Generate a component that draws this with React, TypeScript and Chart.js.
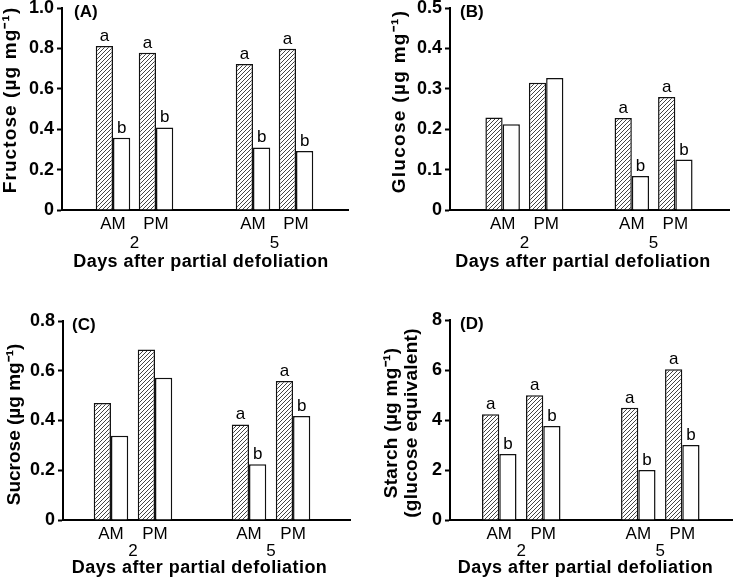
import React, { useEffect, useRef } from 'react';
import { Chart, registerables, LinearScale } from 'chart.js';

// Linear scale whose title can be nudged and letter-spaced
class TitledLinearScale extends (LinearScale as any) {
  static id = 'titledLinear';
  static defaults = (LinearScale as any).defaults;
  drawTitle() {
    const ctx = (this as any).ctx;
    const shift = (this as any).$titleShift || [0, 0];
    ctx.save();
    ctx.translate(shift[0], shift[1]);
    ctx.letterSpacing = `${(this as any).$titleSpacing || 0}px`;
    super.drawTitle();
    ctx.restore();
  }
}

Chart.register(...registerables, TitledLinearScale as any);

// ---------- data ----------
const sessions = ['AM', 'PM'];
const days = ['2', '5'];
const xAxisTitle = 'Days after partial defoliation';

const fructoseHatched = [0.812, 0.779, 0.723, 0.798];
const fructoseOpen = [0.358, 0.409, 0.31, 0.292];
const fructoseHatchedLetters = ['a', 'a', 'a', 'a'];
const fructoseOpenLetters = ['b', 'b', 'b', 'b'];
const fructoseTickValues = [0, 0.2, 0.4, 0.6, 0.8, 1.0];
const fructoseTickLabels = ['0', '0.2', '0.4', '0.6', '0.8', '1.0'];

const glucoseHatched = [0.229, 0.315, 0.228, 0.28];
const glucoseOpen = [0.212, 0.327, 0.084, 0.125];
const glucoseHatchedLetters = ['', '', 'a', 'a'];
const glucoseOpenLetters = ['', '', 'b', 'b'];
const glucoseTickValues = [0, 0.1, 0.2, 0.3, 0.4, 0.5];
const glucoseTickLabels = ['0', '0.1', '0.2', '0.3', '0.4', '0.5'];

const sucroseHatched = [0.47, 0.685, 0.384, 0.559];
const sucroseOpen = [0.339, 0.572, 0.224, 0.418];
const sucroseHatchedLetters = ['', '', 'a', 'a'];
const sucroseOpenLetters = ['', '', 'b', 'b'];
const sucroseTickValues = [0, 0.2, 0.4, 0.6, 0.8];
const sucroseTickLabels = ['0', '0.2', '0.4', '0.6', '0.8'];

const starchHatched = [4.23, 4.99, 4.49, 6.03];
const starchOpen = [2.64, 3.76, 2.0, 3.0];
const starchHatchedLetters = ['a', 'a', 'a', 'a'];
const starchOpenLetters = ['b', 'b', 'b', 'b'];
const starchTickValues = [0, 2, 4, 6, 8];
const starchTickLabels = ['0', '2', '4', '6', '8'];

// ---------- styling / layout ----------
const FONT = '"Liberation Sans", Arial, Helvetica, sans-serif';

type Layout = {
  left: number; top: number; w: number; h: number;
  yWidth: number; padTop: number; padRight: number;
  xH: number; xDayH: number; xDayPad: number;
  lead: number; dayStep: number; xMax: number;
  yTitlePad: number; yTitleShift: number; yTitleSpacing: number;
  xTitlePad: number; xTitleShift: number; labelDx: number;
};

type PanelCfg = {
  label: string;
  yTitle: string | string[];
  hatched: number[]; open: number[];
  hatchedLetters: string[]; openLetters: string[];
  tickValues: number[]; tickLabels: string[];
  layout: Layout;
};

const panels: PanelCfg[] = [
  {
    label: '(A)', yTitle: 'Fructose (µg mg⁻¹)',
    hatched: fructoseHatched, open: fructoseOpen,
    hatchedLetters: fructoseHatchedLetters, openLetters: fructoseOpenLetters,
    tickValues: fructoseTickValues, tickLabels: fructoseTickLabels,
    layout: { left: 0, top: 0, w: 366, h: 290, yWidth: 62, padTop: 8, padRight: 18, xH: 19, xDayH: 61, xDayPad: 4,
      lead: 1.186, dayStep: 3.256, xMax: 6.651,
      yTitlePad: 1, yTitleShift: -9, yTitleSpacing: 1.1,
      xTitlePad: 18, xTitleShift: -4, labelDx: 12 },
  },
  {
    label: '(B)', yTitle: 'Glucose (µg mg⁻¹)',
    hatched: glucoseHatched, open: glucoseOpen,
    hatchedLetters: glucoseHatchedLetters, openLetters: glucoseOpenLetters,
    tickValues: glucoseTickValues, tickLabels: glucoseTickLabels,
    layout: { left: 366, top: 0, w: 367, h: 290, yWidth: 84, padTop: 8, padRight: 4, xH: 19, xDayH: 61, xDayPad: 4,
      lead: 1.21, dayStep: 2.97, xMax: 6.414,
      yTitlePad: 24, yTitleShift: -7.5, yTitleSpacing: 1.3,
      xTitlePad: 18, xTitleShift: -6.5, labelDx: 10 },
  },
  {
    label: '(C)', yTitle: 'Sucrose (µg mg⁻¹)',
    hatched: sucroseHatched, open: sucroseOpen,
    hatchedLetters: sucroseHatchedLetters, openLetters: sucroseOpenLetters,
    tickValues: sucroseTickValues, tickLabels: sucroseTickLabels,
    layout: { left: 0, top: 290, w: 366, h: 292, yWidth: 63, padTop: 31, padRight: 16, xH: 19, xDayH: 43, xDayPad: 2.5,
      lead: 1.09, dayStep: 3.136, xMax: 6.52,
      yTitlePad: 5, yTitleShift: 4, yTitleSpacing: 0,
      xTitlePad: 4, xTitleShift: -7, labelDx: 9 },
  },
  {
    label: '(D)', yTitle: ['Starch (µg mg⁻¹)', '(glucose equivalent)'],
    hatched: starchHatched, open: starchOpen,
    hatchedLetters: starchHatchedLetters, openLetters: starchOpenLetters,
    tickValues: starchTickValues, tickLabels: starchTickLabels,
    layout: { left: 366, top: 290, w: 367, h: 292, yWidth: 84, padTop: 30, padRight: 1, xH: 19, xDayH: 43, xDayPad: 2.5,
      lead: 1.12, dayStep: 3.16, xMax: 6.41,
      yTitlePad: 16, yTitleShift: 3, yTitleSpacing: 0.3,
      xTitlePad: 4, xTitleShift: -5.5, labelDx: 10 },
  },
];

function makeHatch(ctx: CanvasRenderingContext2D) {
  const s = 4;
  const c = document.createElement('canvas');
  c.width = s; c.height = s;
  const g = c.getContext('2d')!;
  g.fillStyle = '#ffffff';
  g.fillRect(0, 0, s, s);
  g.strokeStyle = '#444444';
  g.lineWidth = 1;
  g.beginPath(); g.moveTo(-1, s + 1); g.lineTo(s + 1, -1); g.stroke();
  g.beginPath(); g.moveTo(-1, 1); g.lineTo(1, -1); g.stroke();
  g.beginPath(); g.moveTo(s - 1, s + 1); g.lineTo(s + 1, s - 1); g.stroke();
  return ctx.createPattern(c, 'repeat')!;
}

const lettersPlugin = {
  id: 'letters',
  afterDatasetsDraw(chart: any) {
    const ctx = chart.ctx;
    ctx.save();
    ctx.font = `17px ${FONT}`;
    ctx.fillStyle = '#000';
    ctx.textAlign = 'center';
    ctx.textBaseline = 'alphabetic';
    chart.data.datasets.forEach((ds: any, i: number) => {
      const meta = chart.getDatasetMeta(i);
      meta.data.forEach((el: any, j: number) => {
        const t = ds.letters ? ds.letters[j] : '';
        if (t) ctx.fillText(t, el.x, el.y - 5);
      });
    });
    ctx.restore();
  },
};

const panelLabelPlugin = {
  id: 'panelLabel',
  afterDraw(chart: any, _args: any, opts: any) {
    const ctx = chart.ctx;
    const area = chart.chartArea;
    ctx.save();
    ctx.font = `bold 17px ${FONT}`;
    ctx.fillStyle = '#000';
    ctx.textAlign = 'left';
    ctx.textBaseline = 'middle';
    ctx.fillText(opts.text, area.left + opts.dx, area.top + 4);
    ctx.restore();
  },
};

function Panel({ cfg }: { cfg: PanelCfg }) {
  const ref = useRef<HTMLCanvasElement>(null);
  const L = cfg.layout;
  useEffect(() => {
    const canvas = ref.current!;
    const ctx = canvas.getContext('2d')!;
    const hatch = makeHatch(ctx);
    const positions = cfg.hatched.map((_, i) => L.lead + (i % 2) + Math.floor(i / 2) * L.dayStep);
    const dayCenters = days.map((_, d) => L.lead + 0.5 + d * L.dayStep);
    const unitPx = (canvas.width - L.yWidth - L.padRight) / L.xMax;

    const chart = new Chart(canvas, {
      type: 'bar',
      data: {
        datasets: [
          {
            data: cfg.hatched.map((v, i) => ({ x: positions[i], y: v })),
            backgroundColor: hatch,
            borderColor: '#111',
            borderWidth: 1.5,
            letters: cfg.hatchedLetters,
          } as any,
          {
            data: cfg.open.map((v, i) => ({ x: positions[i], y: v })),
            backgroundColor: '#ffffff',
            borderColor: '#111',
            borderWidth: 1.5,
            letters: cfg.openLetters,
          } as any,
        ],
      },
      options: {
        animation: false,
        responsive: false,
        events: [],
        layout: { padding: { top: L.padTop, right: L.padRight, left: 0, bottom: 0 } },
        datasets: {
          bar: { categoryPercentage: 34.5 / unitPx, barPercentage: 1, grouped: true },
        },
        plugins: {
          legend: { display: false },
          tooltip: { enabled: false },
          panelLabel: { text: cfg.label, dx: L.labelDx },
        } as any,
        scales: {
          x: {
            type: 'linear',
            position: 'bottom',
            min: 0,
            max: L.xMax,
            offset: false,
            afterBuildTicks: (s: any) => { s.ticks = positions.map((v) => ({ value: v })); },
            afterFit: (s: any) => { s.height = L.xH; s.paddingLeft = 0; s.paddingRight = 0; },
            ticks: {
              autoSkip: false, maxRotation: 0, minRotation: 0, padding: 4.5,
              color: '#000', font: { family: FONT, size: 17 },
              callback: (_v: any, i: number) => sessions[i % 2],
            },
            grid: { display: false, drawTicks: false },
            border: { display: true, width: 2, color: '#000' },
          },
          xDay: {
            type: 'titledLinear',
            position: 'bottom',
            axis: 'x',
            min: 0,
            max: L.xMax,
            offset: false,
            afterBuildTicks: (s: any) => { s.ticks = dayCenters.map((v) => ({ value: v })); },
            afterFit: (s: any) => {
              s.height = L.xDayH; s.paddingLeft = 0; s.paddingRight = 0;
              s.$titleShift = [L.xTitleShift, 0]; s.$titleSpacing = 0.45;
            },
            ticks: {
              autoSkip: false, maxRotation: 0, minRotation: 0, padding: L.xDayPad,
              color: '#000', font: { family: FONT, size: 17 },
              callback: (_v: any, i: number) => days[i],
            },
            grid: { display: false, drawTicks: false },
            border: { display: false },
            title: {
              display: true, text: xAxisTitle, color: '#000',
              font: { family: FONT, size: 18, weight: 'bold', lineHeight: 1.1 },
              padding: { top: 0, bottom: L.xTitlePad },
            },
          } as any,
          y: {
            type: 'titledLinear',
            min: 0,
            max: cfg.tickValues[cfg.tickValues.length - 1],
            afterBuildTicks: (s: any) => { s.ticks = cfg.tickValues.map((v) => ({ value: v })); },
            afterFit: (s: any) => {
              s.width = L.yWidth; s.paddingTop = 0; s.paddingBottom = 0;
              s.$titleShift = [0, L.yTitleShift]; s.$titleSpacing = L.yTitleSpacing;
            },
            ticks: {
              padding: 3, color: '#000',
              font: { family: FONT, size: 18, weight: 'bold' },
              callback: (_v: any, i: number) => cfg.tickLabels[i],
            },
            grid: {
              display: true, drawOnChartArea: false, drawTicks: true,
              tickLength: 5, tickWidth: 2, tickColor: '#000', color: '#000',
            },
            border: { display: true, width: 2, color: '#000' },
            title: {
              display: true, text: cfg.yTitle, color: '#000',
              font: { family: FONT, size: 19, weight: 'bold', lineHeight: 1.05 },
              padding: { top: L.yTitlePad, bottom: 0 },
            },
          } as any,
        },
      },
      plugins: [lettersPlugin, panelLabelPlugin],
    });
    return () => chart.destroy();
  }, []);
  return (
    <canvas
      ref={ref}
      width={L.w}
      height={L.h}
      style={{ position: 'absolute', left: L.left, top: L.top, width: L.w, height: L.h }}
    />
  );
}

export default function App() {
  return (
    <div style={{ position: 'absolute', left: 0, top: 0, width: 733, height: 582, background: '#fff' }}>
      {panels.map((p) => (
        <Panel key={p.label} cfg={p} />
      ))}
    </div>
  );
}
